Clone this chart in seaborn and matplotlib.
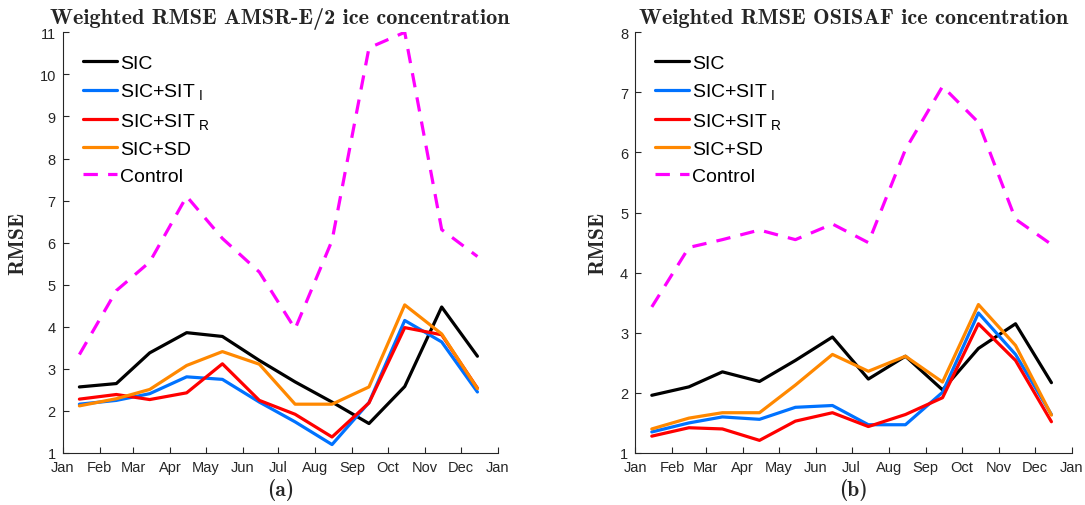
import pandas as pd
import matplotlib
matplotlib.use("Agg")
import matplotlib.pyplot as plt
import matplotlib.dates as mdates
import seaborn as sns

# mid-month sample dates (x positions)
dates = ["2007-01-15", "2007-02-15", "2007-03-15", "2007-04-15", "2007-05-15", "2007-06-15",
         "2007-07-15", "2007-08-15", "2007-09-15", "2007-10-15", "2007-11-15", "2007-12-15"]

series_names = ["SIC", "SIC+SIT$_{\\ \\mathregular{I}}$", "SIC+SIT$_{\\ \\mathregular{R}}$",
                "SIC+SD", "Control"]

# panel (a): AMSR-E/2
amsr_sic = [2.57, 2.65, 3.38, 3.86, 3.77, 3.20, 2.69, 2.21, 1.70, 2.58, 4.47, 3.30]
amsr_siti = [2.16, 2.25, 2.41, 2.81, 2.75, 2.21, 1.74, 1.20, 2.20, 4.15, 3.64, 2.45]
amsr_sitr = [2.28, 2.39, 2.27, 2.43, 3.12, 2.25, 1.92, 1.38, 2.19, 3.98, 3.81, 2.54]
amsr_sd = [2.12, 2.29, 2.51, 3.08, 3.41, 3.11, 2.16, 2.16, 2.57, 4.52, 3.83, 2.53]
amsr_ctrl = [3.34, 4.86, 5.54, 7.10, 6.10, 5.30, 3.95, 6.05, 10.63, 11.0, 6.31, 5.67]

# panel (b): OSISAF
osi_sic = [1.96, 2.10, 2.35, 2.19, 2.54, 2.93, 2.23, 2.61, 2.05, 2.74, 3.15, 2.17]
osi_siti = [1.35, 1.50, 1.60, 1.56, 1.76, 1.79, 1.47, 1.47, 2.01, 3.33, 2.64, 1.64]
osi_sitr = [1.28, 1.42, 1.40, 1.21, 1.53, 1.67, 1.44, 1.64, 1.92, 3.15, 2.54, 1.52]
osi_sd = [1.40, 1.58, 1.67, 1.67, 2.13, 2.64, 2.36, 2.61, 2.18, 3.47, 2.79, 1.63]
osi_ctrl = [3.43, 4.42, 4.55, 4.71, 4.55, 4.81, 4.50, 6.05, 7.10, 6.50, 4.89, 4.47]

colors = ["#000000", "#0072FF", "#FF0000", "#FF8800", "#FF00FF"]

sns.set_style("ticks")
plt.rcParams["font.family"] = ["Liberation Sans", "DejaVu Sans"]
plt.rcParams["mathtext.fontset"] = "custom"
plt.rcParams["mathtext.rm"] = "Liberation Sans"
plt.rcParams["mathtext.it"] = "Liberation Sans"
axis_col = "#262626"


def draw_panel(ax, values, title, letter, ymax):
    x = pd.to_datetime(dates)
    for name, vals, col in zip(series_names, values, colors):
        df = pd.DataFrame({"date": x, "rmse": vals})
        dashed = name == "Control"
        sns.lineplot(data=df, x="date", y="rmse", ax=ax, color=col, lw=2.3,
                     label=name, linestyle=(0, (4.5, 3.2)) if dashed else "-")

    ax.set_xlim(pd.Timestamp("2007-01-01"), pd.Timestamp("2008-01-01"))
    ax.set_ylim(1, ymax)
    ax.set_yticks(range(1, ymax + 1))
    ax.xaxis.set_major_locator(mdates.MonthLocator())
    ax.xaxis.set_major_formatter(mdates.DateFormatter("%b"))
    ax.tick_params(direction="in", length=4, width=0.8, colors=axis_col,
                   labelsize=10.5, labelcolor=axis_col, pad=5)
    sns.despine(ax=ax)
    for s in ["left", "bottom"]:
        ax.spines[s].set_color(axis_col)
        ax.spines[s].set_linewidth(0.8)

    ax.set_title(title, fontfamily="cmb10", fontsize=16, pad=7)
    ax.set_xlabel(letter, fontfamily="cmb10", fontsize=15.5, labelpad=3)
    ax.set_ylabel("RMSE", fontfamily="cmb10", fontsize=15.5, labelpad=9)

    leg = ax.legend(loc="upper left", bbox_to_anchor=(0.02, 0.975), frameon=False,
                    fontsize=14, handlelength=1.75, handletextpad=0.15,
                    labelspacing=0.48, borderaxespad=0.2)
    for t in leg.get_texts():
        t.set_color("black")


fig = plt.figure(figsize=(10.85, 5.06), dpi=100)
ax1 = fig.add_axes([0.0578, 0.1028, 0.4009, 0.8314])
ax2 = fig.add_axes([0.5853, 0.1028, 0.4025, 0.8314])

draw_panel(ax1, [amsr_sic, amsr_siti, amsr_sitr, amsr_sd, amsr_ctrl],
           "Weighted RMSE AMSR-E/2 ice concentration", "(a)", 11)
draw_panel(ax2, [osi_sic, osi_siti, osi_sitr, osi_sd, osi_ctrl],
           "Weighted RMSE OSISAF ice concentration", "(b)", 8)

fig.savefig("out.png", dpi=100)
